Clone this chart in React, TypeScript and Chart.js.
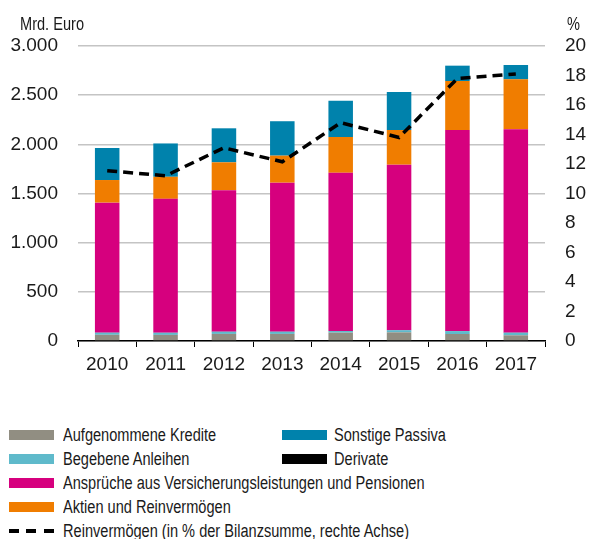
import React, { useEffect, useRef } from "react";
import { Chart, registerables } from "chart.js";

Chart.register(...registerables);

const years = ["2010", "2011", "2012", "2013", "2014", "2015", "2016", "2017"];
const kredite = [63, 62, 72, 72, 85, 88, 71, 58];
const anleihen = [22, 22, 23, 23, 17, 22, 30, 27];
const derivate = [0, 0, 0, 0, 0, 0, 0, 0];
const ansprueche = [1322, 1362, 1438, 1515, 1610, 1683, 2045, 2068];
const aktien = [230, 224, 284, 275, 363, 353, 498, 508];
const sonstige = [326, 339, 346, 350, 369, 387, 156, 146];
const reinvermoegenPct = [11.55, 11.2, 13.1, 12.15, 14.8, 13.8, 17.8, 18.1];

const TICK_FONT = "'Liberation Sans', Arial, sans-serif";
const FONT = "'Liberation Sans', Arial, sans-serif";
const TEXT = "#1a1a1a";
const COLORS = {
  kredite: "#918e82",
  anleihen: "#5fbacb",
  derivate: "#000000",
  ansprueche: "#d6007e",
  aktien: "#f07d00",
  sonstige: "#0082ac",
};

const CANVAS_W = 589;
const CANVAS_H = 395;

export default function App() {
  const ref = useRef<HTMLCanvasElement | null>(null);

  useEffect(() => {
    if (!ref.current) return;
    const bar = (label: string, data: number[], color: string) => ({
      type: "bar" as const,
      label,
      data,
      backgroundColor: color,
      borderWidth: 0,
      barPercentage: 0.42,
      categoryPercentage: 1,
      yAxisID: "y",
      order: 1,
    });
    const chart = new Chart(ref.current, {
      type: "bar",
      data: {
        labels: years,
        datasets: [
          bar("Aufgenommene Kredite", kredite, COLORS.kredite),
          bar("Begebene Anleihen", anleihen, COLORS.anleihen),
          bar("Derivate", derivate, COLORS.derivate),
          bar("Ansprüche aus Versicherungsleistungen und Pensionen", ansprueche, COLORS.ansprueche),
          bar("Aktien und Reinvermögen", aktien, COLORS.aktien),
          bar("Sonstige Passiva", sonstige, COLORS.sonstige),
          {
            type: "line" as const,
            label: "Reinvermögen (in % der Bilanzsumme, rechte Achse)",
            data: reinvermoegenPct,
            borderColor: "#000",
            borderWidth: 3.5,
            borderDash: [10, 6],
            pointRadius: 0,
            fill: false,
            tension: 0,
            yAxisID: "y1",
            order: 0,
          } as any,
        ],
      },
      options: {
        responsive: false,
        animation: false,
        devicePixelRatio: 1,
        layout: { padding: { top: 46, left: 0, right: 0, bottom: 0 } },
        plugins: {
          legend: { display: false },
          tooltip: { enabled: false },
        },
        scales: {
          x: {
            stacked: true,
            offset: true,
            grid: {
              display: true,
              drawOnChartArea: false,
              drawTicks: true,
              tickLength: 6,
              color: "#000",
              offset: true,
            },
            border: { display: true, color: "#000", width: 1.5 },
            ticks: { font: { family: TICK_FONT, size: 19 }, color: TEXT, padding: 6 },
            afterFit: (s: any) => {
              s.height = CANVAS_H - 341;
            },
          },
          y: {
            stacked: true,
            position: "left",
            min: 0,
            max: 3000,
            ticks: {
              stepSize: 500,
              font: { family: TICK_FONT, size: 19 },
              color: TEXT,
              padding: 20,
              callback: (v: any) => Number(v).toLocaleString("de-DE"),
            },
            grid: { color: "#c4c4c4", lineWidth: 1.5, drawTicks: false },
            border: { display: false },
            afterFit: (s: any) => {
              s.width = 78;
            },
          },
          y1: {
            position: "right",
            min: 0,
            max: 20,
            ticks: {
              stepSize: 2,
              font: { family: TICK_FONT, size: 19 },
              color: TEXT,
              padding: 20,
            },
            grid: { drawOnChartArea: false, drawTicks: false },
            border: { display: false },
            afterFit: (s: any) => {
              s.width = 44;
            },
          },
        },
      },
    });
    return () => chart.destroy();
  }, []);

  const legendLeft = [
    { label: "Aufgenommene Kredite", color: COLORS.kredite },
    { label: "Begebene Anleihen", color: COLORS.anleihen },
    { label: "Ansprüche aus Versicherungsleistungen und Pensionen", color: COLORS.ansprueche },
    { label: "Aktien und Reinvermögen", color: COLORS.aktien },
  ];
  const legendRight = [
    { label: "Sonstige Passiva", color: COLORS.sonstige },
    { label: "Derivate", color: COLORS.derivate },
  ];

  const textStyle: React.CSSProperties = {
    position: "absolute",
    fontFamily: FONT,
    fontSize: 18,
    color: TEXT,
    lineHeight: "20px",
    whiteSpace: "nowrap",
    transform: "scaleX(0.81)",
    transformOrigin: "left center",
  };

  const rowY = (i: number) => 435 + i * 24;

  return (
    <div style={{ position: "absolute", left: 0, top: 0, width: CANVAS_W, height: 539, background: "#fff" }}>
      <canvas ref={ref} width={CANVAS_W} height={CANVAS_H} style={{ width: CANVAS_W, height: CANVAS_H, display: "block" }} />
      <div style={{ ...textStyle, left: 20, top: 14 }}>Mrd. Euro</div>
      <div style={{ ...textStyle, left: 567, top: 14 }}>%</div>
      {legendLeft.map((e, i) => (
        <React.Fragment key={e.label}>
          <div style={{ position: "absolute", left: 9, top: rowY(i) - 5, width: 45, height: 10, background: e.color }} />
          <div style={{ ...textStyle, left: 63, top: rowY(i) - 10 }}>{e.label}</div>
        </React.Fragment>
      ))}
      {legendRight.map((e, i) => (
        <React.Fragment key={e.label}>
          <div style={{ position: "absolute", left: 282, top: rowY(i) - 5, width: 45, height: 10, background: e.color }} />
          <div style={{ ...textStyle, left: 334, top: rowY(i) - 10 }}>{e.label}</div>
        </React.Fragment>
      ))}
      {[9, 26, 44].map((x) => (
        <div key={x} style={{ position: "absolute", left: x, top: rowY(4) - 2, width: 10, height: 4, background: "#000" }} />
      ))}
      <div style={{ ...textStyle, left: 63, top: rowY(4) - 10 }}>Reinvermögen (in % der Bilanzsumme, rechte Achse)</div>
    </div>
  );
}
